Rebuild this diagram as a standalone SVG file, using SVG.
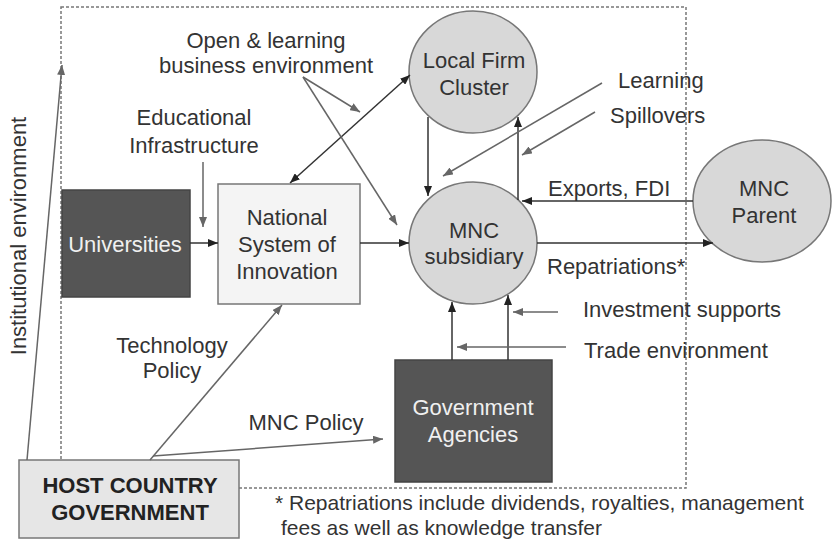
<svg xmlns="http://www.w3.org/2000/svg" width="832" height="542" viewBox="0 0 832 542">
<style>
text{font-family:"Liberation Sans",Arial,sans-serif;font-size:22px;fill:#333}
.c{text-anchor:middle}
.w{fill:#f0f0f0}
.b{font-weight:bold;fill:#222}
.fn{font-size:21px}
.dk{fill:#555;stroke:#444;stroke-width:1.5}
.el{fill:#d8d8d8;stroke:#777;stroke-width:1.5}
.k{stroke:#333;stroke-width:1.5;fill:none}
.g{stroke:#666;stroke-width:1.5;fill:none}
</style>
<defs>
<marker id="ak" viewBox="0 0 10 8" refX="10" refY="4" markerWidth="10" markerHeight="8" markerUnits="userSpaceOnUse" orient="auto-start-reverse"><path d="M0,0L10,4L0,8z" fill="#222"/></marker>
<marker id="ag" viewBox="0 0 10 8" refX="10" refY="4" markerWidth="10" markerHeight="8" markerUnits="userSpaceOnUse" orient="auto"><path d="M0,0L10,4L0,8z" fill="#666"/></marker>
</defs>
<rect width="832" height="542" fill="#fff"/>
<rect id="boundary" x="61" y="7" width="625" height="481" fill="none" stroke="#777" stroke-width="1.5" stroke-dasharray="3 2"/>

<g id="universities"><rect class="dk" x="62" y="190" width="128" height="107"/><text class="c w" x="125" y="252">Universities</text></g>
<g id="nsi"><rect x="218" y="184" width="142" height="120" fill="#f4f4f4" stroke="#777" stroke-width="1.5"/><text class="c" x="287" y="225">National</text><text class="c" x="287" y="252">System of</text><text class="c" x="287" y="279">Innovation</text></g>
<g id="cluster"><ellipse class="el" cx="473" cy="72" rx="64" ry="61"/><text class="c" x="474" y="68">Local Firm</text><text class="c" x="474" y="95">Cluster</text></g>
<g id="subsidiary"><ellipse class="el" cx="473" cy="243" rx="64" ry="61"/><text class="c" x="474" y="238">MNC</text><text class="c" x="474" y="264">subsidiary</text></g>
<g id="parent"><ellipse class="el" cx="762" cy="201" rx="69" ry="61"/><text class="c" x="764" y="196">MNC</text><text class="c" x="764" y="223">Parent</text></g>
<g id="agencies"><rect class="dk" x="395" y="360" width="157" height="122"/><text class="c w" x="473" y="415">Government</text><text class="c w" x="473" y="442">Agencies</text></g>
<g id="government"><rect x="19" y="460" width="220" height="78" fill="#e6e6e6" stroke="#777" stroke-width="1.5"/><text class="c b" x="130" y="493">HOST COUNTRY</text><text class="c b" x="130" y="520">GOVERNMENT</text></g>

<g id="connectors">
<line class="g" x1="27" y1="460" x2="62" y2="65" marker-end="url(#ag)"/>
<line class="k" x1="190" y1="243" x2="218" y2="243" marker-end="url(#ak)"/>
<line class="g" x1="203" y1="162" x2="203" y2="227" marker-end="url(#ag)"/>
<line class="k" x1="360" y1="243" x2="409" y2="243" marker-end="url(#ak)"/>
<line class="k" x1="290" y1="183" x2="410" y2="75" marker-start="url(#ak)" marker-end="url(#ak)"/>
<line class="g" x1="303" y1="77" x2="360" y2="112" marker-end="url(#ag)"/>
<line class="g" x1="303" y1="77" x2="397" y2="225" marker-end="url(#ag)"/>
<line class="k" x1="428" y1="117" x2="428" y2="196" marker-end="url(#ak)"/>
<line class="k" x1="518" y1="200" x2="518" y2="117" marker-end="url(#ak)"/>
<line class="g" x1="602" y1="83" x2="443" y2="176" marker-end="url(#ag)"/>
<line class="g" x1="595" y1="112" x2="522" y2="155" marker-end="url(#ag)"/>
<line class="k" x1="693" y1="201" x2="522" y2="201" marker-end="url(#ak)"/>
<line class="k" x1="537" y1="243" x2="713" y2="243" marker-end="url(#ak)"/>
<line class="k" x1="452" y1="360" x2="452" y2="302" marker-end="url(#ak)"/>
<line class="k" x1="508" y1="360" x2="508" y2="295" marker-end="url(#ak)"/>
<line class="g" x1="558" y1="312" x2="513" y2="312" marker-end="url(#ag)"/>
<line class="g" x1="566" y1="347" x2="457" y2="347" marker-end="url(#ag)"/>
<line class="g" x1="150" y1="460" x2="282" y2="305" marker-end="url(#ag)"/>
<line class="g" x1="153" y1="456" x2="383" y2="439" marker-end="url(#ag)"/>
</g>

<g id="labels">
<text class="c" x="266" y="48">Open &amp; learning</text>
<text class="c" x="266" y="73">business environment</text>
<text class="c" x="194" y="125">Educational</text>
<text class="c" x="194" y="153">Infrastructure</text>
<text x="618" y="88">Learning</text>
<text x="610" y="123">Spillovers</text>
<text x="548" y="196">Exports, FDI</text>
<text x="547" y="274">Repatriations*</text>
<text x="583" y="317">Investment supports</text>
<text x="584" y="358">Trade environment</text>
<text class="c" x="172" y="353">Technology</text>
<text class="c" x="172" y="378">Policy</text>
<text class="c" x="306" y="430">MNC Policy</text>
<text class="c" transform="translate(26,236) rotate(-90)">Institutional environment</text>
<text class="fn" x="275" y="510">* Repatriations include dividends, royalties, management</text>
<text class="fn" x="281" y="535">fees as well as knowledge transfer</text>
</g>
</svg>
